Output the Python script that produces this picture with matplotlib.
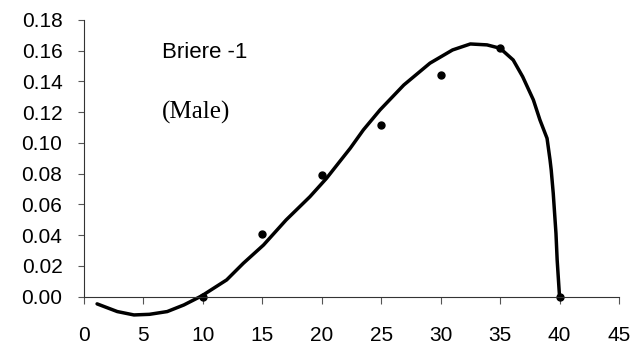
import matplotlib
matplotlib.use("Agg")
import matplotlib.pyplot as plt
import numpy as np

# observed points
obs_x = [10, 15, 20, 25, 30, 35, 40]
obs_y = [0.000, 0.041, 0.079, 0.112, 0.144, 0.162, 0.000]

# fitted Briere-1 curve
curve_x = [1.1, 2.8, 4.2, 5.5, 7.0, 8.4, 9.9, 12.0, 13.4, 15.1, 17.0, 19.0,
           20.4, 21.5, 22.4, 23.5, 24.9, 26.9, 29.1, 31.0, 32.5, 33.9, 35.0,
           36.1, 36.9, 37.8, 38.35, 38.95, 39.2, 39.3, 39.47, 39.7, 39.8, 40.0]
curve_y = [-0.0047, -0.0097, -0.0119, -0.0115, -0.0097, -0.0054, 0.0005,
           0.0109, 0.0217, 0.0336, 0.0499, 0.065, 0.077, 0.0878, 0.0966,
           0.1085, 0.1215, 0.1377, 0.1519, 0.1605, 0.1644, 0.1638, 0.1616,
           0.154, 0.1431, 0.128, 0.115, 0.103, 0.089, 0.0824, 0.0673, 0.0412,
           0.0239, 0.0]

x_ticks = np.arange(0, 46, 5)
y_ticks = np.arange(0, 0.181, 0.02)

plt.rcParams["font.family"] = ["Liberation Sans", "DejaVu Sans"]

fig = plt.figure(figsize=(6.34, 3.47), dpi=100)
ax = fig.add_axes([0.1325, 0.0565, 0.8438, 0.8859])

ax.plot(curve_x, curve_y, "-", color="black", linewidth=2.5,
        solid_capstyle="round", solid_joinstyle="round")
ax.plot(obs_x, obs_y, "o", color="black", markersize=5, clip_on=False)

ax.set_xlim(0, 45)
ax.set_ylim(-0.02, 0.18)

ax.spines["top"].set_visible(False)
ax.spines["right"].set_visible(False)
ax.spines["bottom"].set_position(("data", 0))
ax.spines["left"].set_bounds(0, 0.18)
for s in ("left", "bottom"):
    ax.spines[s].set_linewidth(0.8)
    ax.spines[s].set_color("#333333")

ax.set_xticks(x_ticks)
ax.set_yticks(y_ticks)
ax.set_yticklabels([f"{v:.2f}" for v in y_ticks])
ax.tick_params(axis="x", direction="out", length=5, width=0.8,
               color="#555555", pad=16, labelsize=15)
ax.tick_params(axis="y", direction="out", length=4.5, width=0.8,
               color="#555555", pad=11, labelsize=15)

fig.text(161.7 / 634, 1 - 52.9 / 347, "Briere -1", fontsize=16,
         ha="left", va="center")
fig.text(161.7 / 634, 1 - 112 / 347, "(Male)", fontsize=18,
         family="Liberation Serif", ha="left", va="center")

plt.savefig("out.png", dpi=100)
